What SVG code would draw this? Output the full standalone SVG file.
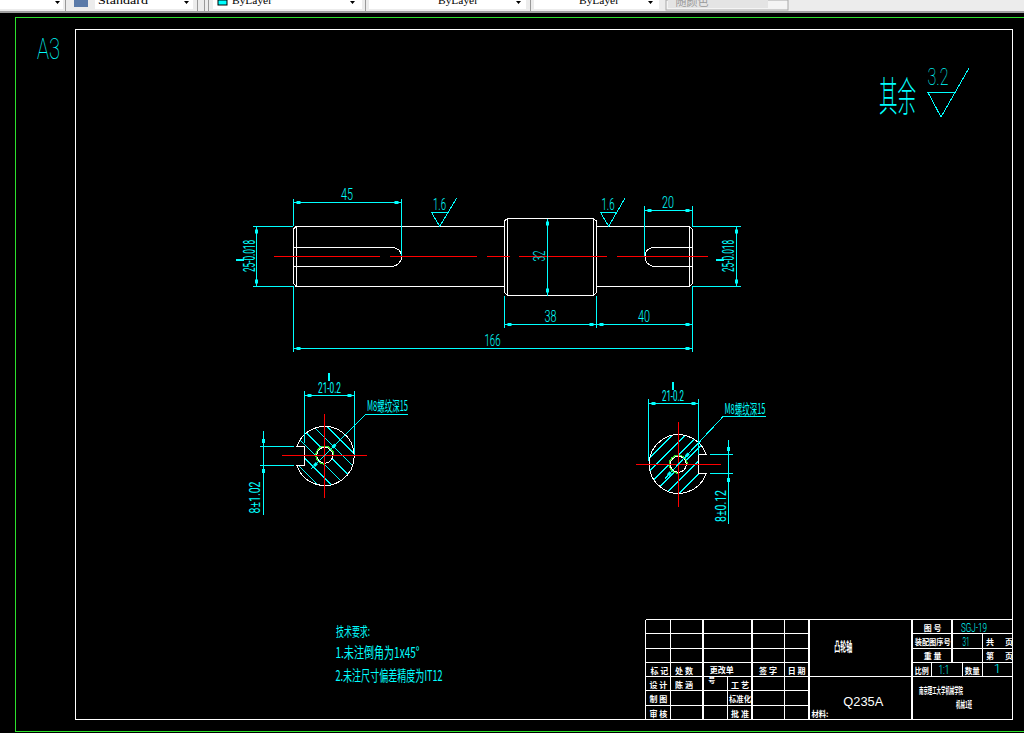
<svg xmlns="http://www.w3.org/2000/svg" width="1024" height="733" viewBox="0 0 1024 733">
<style>
.w{fill:none;stroke:#fff;stroke-width:1;shape-rendering:crispEdges}
.b{fill:none;stroke:#fff;stroke-width:1.4;shape-rendering:crispEdges}
.c{fill:none;stroke:#0ff;stroke-width:1;shape-rendering:crispEdges}
.r{fill:none;stroke:#f00;stroke-width:1.2;shape-rendering:crispEdges}
.g{fill:none;stroke:#2de02d;stroke-width:1.2;shape-rendering:crispEdges}
.d{marker-start:url(#a);marker-end:url(#a)}
.e{marker-end:url(#a)}
.m{fill:#0ff;shape-rendering:crispEdges}
text{text-anchor:middle;dominant-baseline:central;font-family:"Liberation Sans","Noto Sans CJK SC",sans-serif}
.t{fill:#0ff;font-family:Roboto,"Liberation Sans",sans-serif;font-size:16px;font-weight:300}
.h{fill:#0ff;font-family:"Noto Sans CJK SC","Liberation Sans",sans-serif;font-size:14px;font-weight:400}
.l{fill:#fff;font-family:"Noto Sans CJK SC",sans-serif;font-size:8px;font-weight:700}
.u{fill:#000;font-family:"Liberation Serif",serif;font-size:11px}
.box{fill:#fff}
</style>
<defs>
<marker id="a" markerUnits="userSpaceOnUse" markerWidth="10" markerHeight="6" refX="9" refY="3" orient="auto-start-reverse"><rect x="2" y="1.5" width="4" height="3" fill="#0ff"/></marker>
<clipPath id="cl"><path clip-rule="evenodd" d="M296.8,446.3H304.3V465.3H296.8A29.5,29.5 0 1 0 296.8,446.3ZM316.7,455.3a8,8 0 1 0 16,0a8,8 0 1 0 -16,0Z"/></clipPath>
<clipPath id="cr"><path clip-rule="evenodd" d="M706.2,454.7H698V473.3H706.2A29.3,29.3 0 1 1 706.2,454.7ZM670.3,464.3a8,8 0 1 0 16,0a8,8 0 1 0 -16,0Z"/></clipPath>
</defs>

<rect width="1024" height="733" fill="#000"/>
<g id="toolbar">
<rect width="1024" height="13" fill="#ececec"/>
<rect y="11" width="1024" height="2" fill="#a0a0a0"/>
<rect width="63" height="9" class="box"/>
<rect x="74" y="0" width="14" height="7" fill="#5a7aa8"/>
<rect x="95" width="98" height="9" class="box"/>
<rect x="213" width="149" height="9" class="box"/>
<rect x="218" width="9" height="5" fill="#0ff" stroke="#000"/>
<rect x="369" width="157" height="9" class="box"/>
<rect x="534" width="125" height="9" class="box"/>
<rect x="666" width="122" height="10" fill="#f4f4f4" stroke="#a8a8a8"/>
<rect x="668" width="100" height="8" fill="#e4e4e4"/>
<rect x="197" width="1" height="11" fill="#999"/><rect x="204" width="1" height="11" fill="#999"/><rect x="208" width="1" height="11" fill="#999"/><rect x="65" width="1" height="11" fill="#999"/><rect x="365" width="1" height="11" fill="#999"/><rect x="530" width="1" height="11" fill="#999"/>
<text class="u" x="123" y="0" textLength="50" lengthAdjust="spacingAndGlyphs">Standard</text>
<text class="u" x="252" y="0" textLength="40" lengthAdjust="spacingAndGlyphs">ByLayer</text>
<text class="u" x="458" y="0" textLength="40" lengthAdjust="spacingAndGlyphs">ByLayer</text>
<text class="u" x="599" y="0" textLength="40" lengthAdjust="spacingAndGlyphs">ByLayer</text>
<text x="692" y="1" font-size="11" fill="#999" style="font-family:'Noto Sans CJK SC',sans-serif">随颜色</text>
<path d="M184,1h5l-2.500,3zM350,1h5l-2.500,3zM516,1h5l-2.500,3zM648,1h5l-2.500,3zM55,1h5l-2.500,3z" fill="#000"/>
</g>

<g id="frame">
<path class="g" d="M15.500,731.500V17.500H1024M15.500,731.500H1024"/>
<rect class="w" x="75.500" y="29.500" width="937" height="690"/>
<text class="t" x="48.500" y="48.500" style="font-weight:100;font-size:30px" textLength="23" lengthAdjust="spacingAndGlyphs">A3</text>
</g>

<g id="roughness-note">
<text class="h" x="897.500" y="94" style="font-size:40px;font-weight:300" textLength="37" lengthAdjust="spacingAndGlyphs">其余</text>
<text class="t" x="938" y="77.500" style="font-weight:100;font-size:23px" textLength="21" lengthAdjust="spacingAndGlyphs">3.2</text>
<path class="c" d="M927,92.500H955M928,92.500L941,117L969,68"/>
</g>

<g id="shaft">
<path class="w" d="M296,226.500H504.500M293.500,229L296,226.500M293.500,229V283.500L296,286.500H504.500M296,226.500V286.500"/>
<path class="w" d="M504.500,221L507.500,218.500H593.500L596.500,221V292.500L593.500,295.500H507.500L504.500,292.500ZM507.500,218.500V295.500M593.500,218.500V295.500"/>
<path class="w" d="M596.500,226.500H689.500L692.500,229.500V283.500L689.500,286.500H596.500M689.500,226.500V286.500"/>
<path class="w" d="M293.500,247.500H393Q401.500,249 401.500,256.500Q401.500,264 393,266.500H293.500"/>
<path class="w" d="M692.500,247.500H653Q645,249 645,256.500Q645,264 653,266.500H692.500"/>
<path class="r" d="M274,256.500H380M390,256.500H477M487,256.500H510M519,256.500H607M617,256.500H708"/>
</g>

<g id="shaft-dimensions">
<path class="c" d="M293.500,199V226M293.500,286V352M401.500,199V256M692.500,206V226M692.500,286V352M644.500,206V256M504.500,296V328M596.500,296V328M253,226.500H293M253,286.500H293M692,226.500H741M692,286.500H741"/>
<path class="c d" d="M293.500,202.500H401.500"/>
<path class="c d" d="M644.500,210.500H692.500"/>
<path class="c d" d="M504.500,324.500H596.500"/>
<path class="c d" d="M596.500,324.500H692.500"/>
<path class="c d" d="M293.500,348.500H692.500"/>
<path class="c d" d="M256.500,226.500V286.500"/>
<path class="c d" d="M736.500,226.500V286.500"/>
<path class="c d" d="M547.500,218.500V295.500"/>
<text class="t" x="347" y="194" textLength="12" lengthAdjust="spacingAndGlyphs">45</text>
<text class="t" x="668" y="202" textLength="12" lengthAdjust="spacingAndGlyphs">20</text>
<text class="t" x="550.500" y="316.500" textLength="12" lengthAdjust="spacingAndGlyphs">38</text>
<text class="t" x="644" y="316.500" textLength="12" lengthAdjust="spacingAndGlyphs">40</text>
<text class="t" x="492.500" y="340" textLength="16" lengthAdjust="spacingAndGlyphs">166</text>
<text class="t" transform="rotate(-90 539.500 256)" x="539.500" y="256" textLength="11" lengthAdjust="spacingAndGlyphs">32</text>
<text class="t" transform="rotate(-90 249 256)" x="249" y="256" style="font-weight:400" textLength="32" lengthAdjust="spacingAndGlyphs">25-0.018</text>
<text class="t" transform="rotate(-90 728 256)" x="728" y="256" style="font-weight:400" textLength="32" lengthAdjust="spacingAndGlyphs">25-0.018</text>
<rect class="m" x="236" y="259" width="8" height="2"/>
<rect class="m" x="716" y="259" width="8" height="2"/>
<text class="t" x="439.500" y="204" textLength="13" lengthAdjust="spacingAndGlyphs">1.6</text>
<path class="c" d="M431,212.500H448M431.500,212.500L439.700,226.300L456.700,198"/>
<text class="t" x="608" y="204" textLength="13" lengthAdjust="spacingAndGlyphs">1.6</text>
<path class="c" d="M600,212.500H617M600.500,212.500L608.700,226.300L625,198"/>
</g>

<g id="section-left">
<g clip-path="url(#cl)">
<path class="c" d="M315.700,415.300L395.700,495.300M302.200,415.300L382.200,495.300M288.700,415.300L368.700,495.300M275.200,415.300L355.200,495.300M261.700,415.300L341.700,495.300M248.200,415.300L328.200,495.300M329.200,415.300L409.200,495.300"/>
</g>
<path class="w" d="M296.800,446.500H304.500V465.500H296.800A29.500,29.500 0 1 0 296.800,446.500Z"/>
<circle class="w" cx="324.700" cy="455.300" r="8"/>
<path class="g" d="M333.700,455.300A9,9 0 1 0 324.700,464.300"/>
<path class="r" d="M282,455.500H367M324.500,414V498"/>
<path class="c" d="M304.500,391V442.500M354.500,391V455M259.500,446.500H293.500M259.500,465.500H293.500M263.500,431V515M366,414.500H408M366,414L311,469"/>
<path class="c d" d="M304.500,395.500H354.500"/>
<path class="c e" d="M366,414L330.400,449.600"/>
<path class="c e" d="M311,469L319,461"/>
<rect class="m" x="262" y="439" width="3" height="4"/>
<rect class="m" x="262" y="469" width="3" height="4"/>
<text class="t" x="329.500" y="387.500" style="font-weight:400;font-size:15px" textLength="23" lengthAdjust="spacingAndGlyphs">21-0.2</text>
<rect class="m" x="328" y="373" width="2" height="8"/>
<text class="h" x="387.500" y="405" textLength="41" lengthAdjust="spacingAndGlyphs">M8螺纹深15</text>
<text class="t" transform="rotate(-90 255 497.500)" x="255" y="497.500" style="font-weight:400;font-size:15px" textLength="32" lengthAdjust="spacingAndGlyphs">8±1.02</text>
</g>

<g id="section-right">
<g clip-path="url(#cr)">
<path class="c" d="M638.300,469.300L718.300,389.300M638.300,482.300L718.300,402.300M638.300,495.300L718.300,415.300M638.300,508.300L718.300,428.300M638.300,521.300L718.300,441.300M638.300,534.300L718.300,454.300M638.300,456.300L718.300,376.300"/>
</g>
<path class="w" d="M706.200,454.500H698.500V473.500H706.200A29.300,29.300 0 1 1 706.200,454.500Z"/>
<circle class="w" cx="678.300" cy="464.300" r="8"/>
<path class="g" d="M687.300,464.300A9,9 0 1 0 678.300,473.300"/>
<path class="r" d="M636,464.500H721M678.500,422V506.700"/>
<path class="c" d="M648.500,399V461M698.500,399V455M710,454.500H732.700M710,473.500H732.700M728.500,440V523.500M723.300,416.500H766M723.300,416.300L666.700,476.700"/>
<path class="c d" d="M648.500,403.500H698.500"/>
<path class="c e" d="M723.300,416.300L683.900,458.700"/>
<path class="c e" d="M665,478.500L672.700,470"/>
<rect class="m" x="727" y="447" width="3" height="4"/>
<rect class="m" x="727" y="478" width="3" height="4"/>
<text class="t" x="673" y="395.500" style="font-weight:400;font-size:15px" textLength="22" lengthAdjust="spacingAndGlyphs">21-0.2</text>
<rect class="m" x="672" y="382" width="2" height="8"/>
<text class="h" x="745" y="407.500" textLength="41" lengthAdjust="spacingAndGlyphs">M8螺纹深15</text>
<text class="t" transform="rotate(-90 720.500 506)" x="720.500" y="506" style="font-weight:400;font-size:15px" textLength="32" lengthAdjust="spacingAndGlyphs">8±0.12</text>
</g>

<g id="notes">
<text class="h" x="353" y="630" style="font-size:13px" textLength="34" lengthAdjust="spacingAndGlyphs">技术要求:</text>
<text class="h" x="377.500" y="651.500" style="font-size:15px" textLength="84" lengthAdjust="spacingAndGlyphs">1.未注倒角为1x45°</text>
<text class="h" x="389" y="674.500" style="font-size:15px" textLength="107" lengthAdjust="spacingAndGlyphs">2.未注尺寸偏差精度为IT12</text>
</g>

<g id="title-block">
<path class="b" d="M645.500,619.500H1012.500M645.500,719.500H1012.500M645.500,619.500V719.500M670.500,619.500V719.500M784.500,619.500V719.500M727.500,676.500V719.500M645.500,633.500H809M645.500,648.500H809M645.500,662.500H809M645.500,676.500H1012.500M645.500,690.500H809M645.500,705.500H809M911.500,633.500H1012.500M911.500,648.500H1012.500M911.500,662.500H1012.500M982.500,633.500V676.500M931.500,662.500V676.500M962.500,662.500V676.500"/>
<path class="b" style="stroke-width:2" d="M702.500,619.500V719.500M751.500,619.500V719.500M809,619.500V719.500M911.500,619.500V719.500M952,619.500V662.500"/>
<text class="l" x="659.300" y="670">标 记</text>
<text class="l" x="684" y="670">处 数</text>
<text class="l" x="721.700" y="669.500">更改单</text>
<text class="l" x="711.700" y="679.500" style="font-size:7px">号</text>
<text class="l" x="768" y="670">签 字</text>
<text class="l" x="796.700" y="670">日 期</text>
<text class="l" x="658.300" y="684.300">设 计</text>
<text class="l" x="684" y="684.300">陈 涵</text>
<text class="l" x="740" y="684.300">工 艺</text>
<text class="l" x="658.300" y="698.700">制 图</text>
<text class="l" x="740" y="698.700" textLength="22" lengthAdjust="spacingAndGlyphs">标准化</text>
<text class="l" x="658.300" y="713">审 核</text>
<text class="l" x="740" y="713">批 准</text>
<text class="l" x="820" y="713" textLength="17" lengthAdjust="spacingAndGlyphs">材料:</text>
<text class="l" x="843.300" y="645.700" style="font-size:13px" textLength="18" lengthAdjust="spacingAndGlyphs">凸轮轴</text>
<text x="863.300" y="701.700" font-size="13" fill="#fff" textLength="40" lengthAdjust="spacingAndGlyphs">Q235A</text>
<text class="l" x="932.700" y="627.700">图   号</text>
<text class="l" x="932.700" y="641.700" textLength="36" lengthAdjust="spacingAndGlyphs">装配图序号</text>
<text class="l" x="932.700" y="655.700">重   量</text>
<text class="l" x="990" y="641.700">共</text>
<text class="l" x="1009" y="641.700">页</text>
<text class="l" x="990" y="655.700">第</text>
<text class="l" x="1009" y="655.700">页</text>
<text class="l" x="921.700" y="670" textLength="14" lengthAdjust="spacingAndGlyphs">比例</text>
<text class="l" x="972.300" y="670" textLength="15" lengthAdjust="spacingAndGlyphs">数量</text>
<text class="l" x="941" y="690.700" style="font-size:9px" textLength="44" lengthAdjust="spacingAndGlyphs">南京理工大学机械学院</text>
<text class="l" x="964" y="704" style="font-size:9px" textLength="16" lengthAdjust="spacingAndGlyphs">机械1班</text>
<text class="t" x="974" y="627.700" style="font-size:13px" textLength="26" lengthAdjust="spacingAndGlyphs">SGJ-19</text>
<text class="t" x="966" y="641.700" style="font-size:13px" textLength="7" lengthAdjust="spacingAndGlyphs">31</text>
<text class="t" x="944" y="669.300" style="font-size:13px" textLength="11" lengthAdjust="spacingAndGlyphs">1:1</text>
<text class="t" x="997.300" y="668" style="font-size:13px">1</text>
</g>
</svg>
